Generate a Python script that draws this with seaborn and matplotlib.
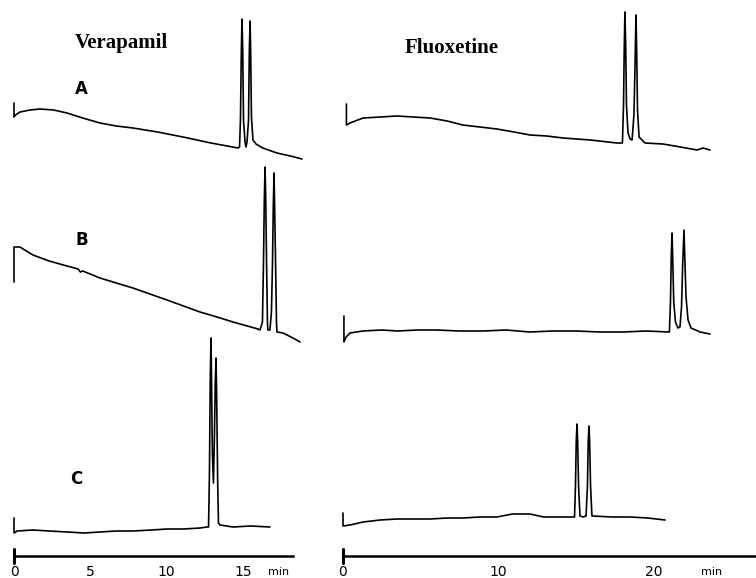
import pandas as pd
import seaborn as sns
import matplotlib.pyplot as plt

# chromatogram traces: time (min) and detector response (arbitrary units)
ver_a_time = [0.00, 0.00, 0.10, 0.39, 1.05, 1.70, 2.60, 3.47, 4.50, 5.63, 6.70, 7.79, 9.40, 11.07, 12.90,
              14.67, 14.77, 14.83, 14.89, 14.93, 14.98, 15.03, 15.13, 15.19, 15.26, 15.36, 15.41, 15.46,
              15.50, 15.55, 15.65, 15.85, 16.29, 17.22, 18.10, 18.86]
ver_a_sig = [14, 0, 2, 5, 7, 8, 7, 4, -1, -6, -9, -11, -15, -20, -26,
             -31, -30, -3, 67, 98, 67, -3, -25, -30, -25, -3, 65, 96,
             65, 0, -23, -27, -31, -36, -39, -42]

ver_b_time = [0.00, 0.00, 0.39, 1.24, 2.30, 3.47, 4.20, 4.35, 4.50, 5.63, 6.70, 7.79, 8.90, 10.02, 11.10,
              12.18, 13.30, 14.34, 15.98, 16.11, 16.27, 16.34, 16.39, 16.44, 16.49, 16.54, 16.60, 16.63,
              16.76, 16.86, 16.93, 16.98, 17.03, 17.07, 17.13, 17.19, 17.22, 17.62, 18.27, 18.73]
ver_b_sig = [0, 35, 35, 27, 21, 16, 13, 10, 11, 4, -1, -6, -12, -18, -24,
             -30, -35, -40, -47, -48, -40, 20, 80, 115, 80, 20, -42, -48,
             -48, -30, 20, 75, 109, 75, 20, -40, -50, -51, -56, -60]

ver_c_time = [0.00, 0.00, 0.20, 1.24, 2.30, 3.47, 4.60, 5.63, 6.70, 7.79, 9.00, 10.02, 11.10, 12.18, 12.64,
              12.74, 12.80, 12.85, 12.90, 12.94, 12.99, 13.06, 13.13, 13.18, 13.23, 13.27, 13.34, 13.39,
              13.49, 14.34, 15.50, 16.76]
ver_c_sig = [15, 0, 2, 3, 2, 1, 0, 1, 2, 2, 3, 4, 4, 5, 6,
             6, 60, 150, 195, 150, 80, 50, 100, 150, 175, 140, 50, 10,
             8, 6, 7, 6]

flu_a_time = [0.22, 0.22, 0.45, 1.29, 2.40, 3.47, 4.50, 5.60, 6.70, 7.70, 8.80, 9.90, 11.00, 12.03, 13.10,
              14.15, 15.90, 17.62, 17.97, 18.04, 18.09, 18.13, 18.18, 18.23, 18.33, 18.46, 18.59, 18.71,
              18.78, 18.84, 18.89, 18.94, 19.04, 19.42, 20.58, 21.70, 22.77, 23.15, 23.60]
flu_a_sig = [21, 0, 2, 7, 8, 9, 8, 7, 4, 0, -2, -4, -7, -10, -11,
             -13, -15, -18, -18, 20, 80, 113, 80, 20, -8, -14, -15, 10,
             60, 110, 70, 15, -12, -18, -19, -22, -25, -23, -25]

flu_b_time = [0.06, 0.06, 0.20, 0.45, 1.29, 2.50, 3.50, 4.80, 6.00, 7.50, 9.00, 10.50, 12.00, 13.50, 15.00,
              16.50, 18.00, 19.50, 20.97, 20.99, 21.06, 21.11, 21.16, 21.21, 21.27, 21.38, 21.54, 21.67,
              21.77, 21.85, 21.93, 21.99, 22.06, 22.19, 22.38, 22.96, 23.60]
flu_b_sig = [26, 0, 5, 9, 11, 12, 11, 12, 12, 11, 11, 12, 10, 11, 11,
             10, 10, 11, 10, 10, 40, 85, 109, 80, 40, 20, 14, 15,
             35, 80, 112, 80, 45, 22, 14, 10, 8]

flu_c_time = [0.00, 0.00, 0.45, 1.29, 2.40, 3.47, 4.50, 5.60, 6.70, 7.70, 8.80, 9.90, 10.90, 12.03, 12.90,
              14.70, 14.89, 14.95, 15.00, 15.05, 15.09, 15.15, 15.24, 15.43, 15.63, 15.72, 15.77, 15.82,
              15.86, 15.92, 16.01, 16.08, 17.30, 18.46, 19.60, 20.71]
flu_c_sig = [13, 0, 1, 4, 6, 7, 7, 7, 8, 8, 9, 9, 12, 12, 9,
             9, 9, 40, 85, 102, 85, 40, 10, 9, 10, 40, 85, 100,
             85, 40, 10, 10, 9, 9, 8, 6]

traces = {
    ('Verapamil', 'A'): (ver_a_time, ver_a_sig),
    ('Verapamil', 'B'): (ver_b_time, ver_b_sig),
    ('Verapamil', 'C'): (ver_c_time, ver_c_sig),
    ('Fluoxetine', 'A'): (flu_a_time, flu_a_sig),
    ('Fluoxetine', 'B'): (flu_b_time, flu_b_sig),
    ('Fluoxetine', 'C'): (flu_c_time, flu_c_sig),
}

ver_ticks = [0, 5, 10, 15]
flu_ticks = [0, 10, 20]

# layout: vertical stacking of the traces (pixel units, bottom = 0)
offsets = {
    ('Verapamil', 'A'): 461, ('Verapamil', 'B'): 296, ('Verapamil', 'C'): 45,
    ('Fluoxetine', 'A'): 453, ('Fluoxetine', 'B'): 236, ('Fluoxetine', 'C'): 52,
}

rows = []
for (drug, run), (t, s) in traces.items():
    for ti, si in zip(t, s):
        rows.append({'drug': drug, 'run': run, 'time': ti, 'y': si + offsets[(drug, run)]})
df = pd.DataFrame(rows)

sns.set_style('white')
plt.rcParams['text.color'] = 'black'
fig = plt.figure(figsize=(7.56, 5.78), dpi=100)
ax_v = fig.add_axes([0, 0, 320 / 756, 1])
ax_f = fig.add_axes([330 / 756, 0, 426 / 756, 1])
ax_v.set_xlim(-0.917, 20.04)
ax_f.set_xlim(-0.836, 26.56)

panels = [(ax_v, 'Verapamil', ver_ticks, 18.27, 17.3),
          (ax_f, 'Fluoxetine', flu_ticks, 26.6, 23.73)]

for ax, drug, ticks, axis_end, min_x in panels:
    ax.set_ylim(0, 578)
    for run in ['A', 'B', 'C']:
        sub = df[(df.drug == drug) & (df.run == run)]
        sns.lineplot(data=sub, x='time', y='y', sort=False, estimator=None,
                     color='black', lw=1.2, ax=ax)
    ax.set_xlabel('')
    ax.set_ylabel('')
    ax.set_yticks([])
    ax.set_xticks(ticks)
    ax.set_xticklabels([str(t) for t in ticks], fontsize=8, family='DejaVu Sans', color='black')
    ax.tick_params(axis='x', direction='inout', length=9, width=1.0, pad=2,
                   colors='black', labelcolor='black')
    ax.spines['bottom'].set_position(('data', 22))
    ax.spines['bottom'].set_bounds(0, axis_end)
    ax.spines['bottom'].set_linewidth(1.8)
    ax.spines['bottom'].set_color('black')
    ax.axvline(0, ymin=15 / 578, ymax=29 / 578, color='black', lw=2.2)
    ax.text(min_x, 6, 'min', fontsize=8, family='DejaVu Sans', ha='center', va='center', color='black')
    ax.set_facecolor('none')
    ax.patch.set_alpha(0)
    ax.grid(False)

sns.despine(ax=ax_v, left=True)
sns.despine(ax=ax_f, left=True)

ax_v.text(4.0, 535, 'Verapamil', fontsize=15, fontweight='bold', family='Liberation Serif',
          va='center', color='black')
ax_f.text(3.99, 530, 'Fluoxetine', fontsize=15, fontweight='bold', family='Liberation Serif',
          va='center', color='black')
ax_v.text(4.0, 489, 'A', fontsize=12, fontweight='bold', family='DejaVu Sans', va='center', color='black')
ax_v.text(4.0, 338, 'B', fontsize=12, fontweight='bold', family='DejaVu Sans', va='center', color='black')
ax_v.text(3.67, 99, 'C', fontsize=12, fontweight='bold', family='DejaVu Sans', va='center', color='black')

fig.savefig('out.png', dpi=100)
